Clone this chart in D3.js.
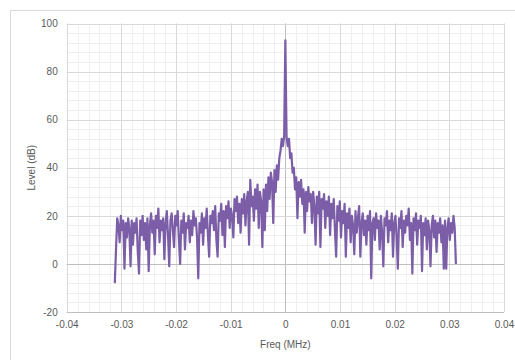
<!DOCTYPE html>
<html>
<head>
<meta charset="utf-8">
<script src="https://cdn.jsdelivr.net/npm/d3@7"></script>
<style>
  html, body { margin: 0; padding: 0; background: #fff; }
  text { font-family: "Liberation Sans", Arial, sans-serif; fill: #595959; }
</style>
</head>
<body>
<div id="chart"></div>
<script>
const width = 515;
const height = 360;

// spectrum levels (dB), one per FFT bin
const levelsLeft = [
  -8, 6, 19, 16, 9, 20, 14, 18, -2, 17, 11, 19, 15, -1, 18, 8, 17, 13, 19, 5,
  -4, 18, 12, 20, 10, 17, 6, 19, -3, 16, 21, 13, 18, 4, 20, 15, 23, 9, 18, 14,
  19, 2, 17, 22, 12, -1, 18, 21, 14, 7, 20, 16, 22, 10, 0, 18, 13, 21, 6, 17,
  15, 20, 9, 18, 12, 22, 16, 19, 11, -6, 17, 13, 21, 8, 19, 15, 23, 12, 3, 20,
  17, 22, 14, 24, 10, 3, 21, 18, 25, 12, 22, 7, 24, 19, 26, 15, 23, 20, 11, 27,
  22, 28, 17, 25, 13, 27, 21, 29, 16, 26, 30, 8, 35, 24, 28, 18, 31, 23, 33, 15,
  30, 26, 7, 31, 14, 33, 22, 36, 27, 38, 34, 17, 39, 30, 41, 35, 44, 47, 52, 49, 53
];
const levelPeak = [93];
const levelsRight = [
  53, 49, 52, 44, 46, 38, 40, 31, 36, 19, 34, 28, 35, 25, 31, 13, 30, 22, 32, 26, 29,
  17, 30, 24, 8, 28, 21, 30, 7, 27, 23, 29, 15, 26, 20, 28, 12, 25, 19, 27, 14,
  3, 24, 18, 26, 11, 22, 17, 25, 3, 21, 15, 23, 9, 20, 16, 4, 22, 13, 19, 24,
  3, 17, 21, 12, 18, 8, 20, 14, 22, -6, 17, 19, 10, 21, 15, 18, 6, 20, 13, -1,
  19, 16, 22, 9, 18, 14, 21, 3, 17, 20, 11, -2, 19, 15, 22, 7, 18, 13, 20, 16,
  23, 10, 17, -4, 19, 14, 21, 8, 18, 15, 20, -3, 17, 12, 19, 6, 18, 14, -1, 16,
  20, 11, 18, 5, 17, 13, 19, 9, 16, -2, 18, -2, 15, 19, 10, 17, 13, 20, 15, 0
];

// bins are evenly spaced across the span
const freqSpan = 0.0312;
const xTicks = [-0.04, -0.03, -0.02, -0.01, 0, 0.01, 0.02, 0.03, 0.04];
const yTicks = [-20, 0, 20, 40, 60, 80, 100];

const levels = levelsLeft.concat(levelPeak, levelsRight);
const half = levelsLeft.length;
const data = levels.map((v, i) => ({ f: ((i - half) / half) * freqSpan, v: v }));

const margin = { left: 66.7, right: 11, top: 23.5, bottom: 48 };

const svg = d3
  .select("#chart")
  .append("svg")
  .attr("width", width)
  .attr("height", height)
  .attr("viewBox", `0 0 ${width} ${height}`);

// chart border (runs off right/bottom like the source)
svg
  .append("rect")
  .attr("x", 10.5)
  .attr("y", 10.5)
  .attr("width", 520)
  .attr("height", 360)
  .attr("fill", "#fff")
  .attr("stroke", "#d9d9d9");

const x = d3
  .scaleLinear()
  .domain([-0.04, 0.04])
  .range([margin.left, width - margin.right]);
const y = d3
  .scaleLinear()
  .domain([-20, 100])
  .range([height - margin.bottom, margin.top]);

// plain hyphen minus, as in the source
const fmt = (d) => String(+d.toFixed(2));

const grid = svg.append("g").attr("class", "grid");

// minor grid
const xMinor = d3.range(-0.04, 0.0401, 0.002);
const yMinor = d3.range(-20, 100.1, 4);
grid
  .selectAll("line.xm")
  .data(xMinor)
  .enter()
  .append("line")
  .attr("x1", (d) => Math.round(x(d)) + 0.5)
  .attr("x2", (d) => Math.round(x(d)) + 0.5)
  .attr("y1", y(-20))
  .attr("y2", y(100))
  .attr("stroke", "#efefef");
grid
  .selectAll("line.ym")
  .data(yMinor)
  .enter()
  .append("line")
  .attr("y1", (d) => Math.round(y(d)) + 0.5)
  .attr("y2", (d) => Math.round(y(d)) + 0.5)
  .attr("x1", x(-0.04))
  .attr("x2", x(0.04))
  .attr("stroke", "#efefef");

// major grid
grid
  .selectAll("line.xM")
  .data(xTicks)
  .enter()
  .append("line")
  .attr("x1", (d) => Math.round(x(d)) + 0.5)
  .attr("x2", (d) => Math.round(x(d)) + 0.5)
  .attr("y1", y(-20))
  .attr("y2", y(100))
  .attr("stroke", (d) => (d === 0 ? "#bfbfbf" : "#d9d9d9"));
grid
  .selectAll("line.yM")
  .data(yTicks)
  .enter()
  .append("line")
  .attr("y1", (d) => Math.round(y(d)) + 0.5)
  .attr("y2", (d) => Math.round(y(d)) + 0.5)
  .attr("x1", x(-0.04))
  .attr("x2", x(0.04))
  .attr("stroke", (d) => (d === 0 || d === -20 ? "#bfbfbf" : "#d9d9d9"));

// axes, labels only
const xAxis = svg
  .append("g")
  .attr("transform", `translate(0,${y(-20) + 4})`)
  .call(d3.axisBottom(x).tickValues(xTicks).tickSize(0).tickFormat(fmt));
xAxis.select(".domain").remove();
xAxis.selectAll("text").attr("font-size", 10).attr("fill", "#595959").attr("dy", "0.9em");

const yAxis = svg
  .append("g")
  .attr("transform", `translate(${x(-0.04) - 6},0)`)
  .call(d3.axisLeft(y).tickValues(yTicks).tickSize(0).tickFormat(fmt));
yAxis.select(".domain").remove();
yAxis.selectAll("text").attr("font-size", 10).attr("fill", "#595959");

// the spectrum
const line = d3
  .line()
  .x((d) => x(d.f))
  .y((d) => y(d.v));
svg
  .append("path")
  .datum(data)
  .attr("fill", "none")
  .attr("stroke", "#7b5ea7")
  .attr("stroke-width", 2.2)
  .attr("stroke-linejoin", "round")
  .attr("d", line);

// axis titles
svg
  .append("text")
  .attr("x", x(0))
  .attr("y", 348)
  .attr("text-anchor", "middle")
  .attr("font-size", 10)
  .text("Freq (MHz)");
svg
  .append("text")
  .attr("transform", `translate(35,${y(40)}) rotate(-90)`)
  .attr("text-anchor", "middle")
  .attr("font-size", 10)
  .text("Level (dB)");
</script>
</body>
</html>
